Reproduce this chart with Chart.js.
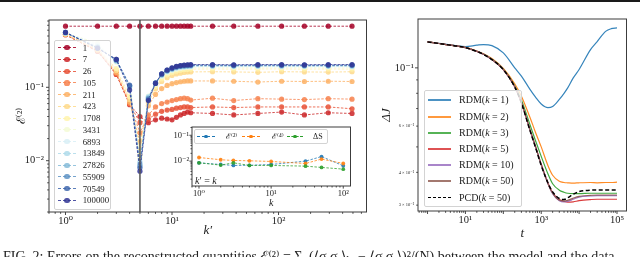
<!DOCTYPE html>
<html><head><meta charset="utf-8">
<script src="https://cdn.jsdelivr.net/npm/chart.js@4.4.1/dist/chart.umd.min.js"></script>
<style>
html,body{margin:0;padding:0;background:#fff;}
body{width:640px;height:257px;overflow:hidden;position:relative;font-family:"Liberation Serif","DejaVu Serif",serif;color:#222;}
canvas{position:absolute;}
.leg{position:absolute;background:rgba(255,255,255,0.8);border:1px solid #d3d3d3;border-radius:2px;box-sizing:border-box;z-index:5;}
.ln{position:absolute;height:0;}
.mk{position:absolute;border-radius:50%;}
.tx{position:absolute;white-space:nowrap;line-height:1;transform:translateY(-50%);color:#222;}
</style></head>
<body>
<div style="position:absolute;left:0;top:0;width:640px;height:2px;background:#1a1a1a"></div>
<canvas id="cMain" width="380" height="257" style="left:0;top:0"></canvas>
<canvas id="cInset" width="212" height="100" style="left:150px;top:112px;z-index:3"></canvas>
<canvas id="cRight" width="260" height="257" style="left:380px;top:0"></canvas>
<div id="legL" class="leg" style="left:53.5px;top:39.5px;width:57px;height:170.5px"></div>
<div id="legI" class="leg" style="left:194px;top:129px;width:134px;height:15px"></div>
<div id="legR" class="leg" style="left:423.5px;top:90px;width:98px;height:116.5px"></div>
<div style="position:absolute;left:195px;top:176px;font-size:10px;z-index:6;line-height:1"><i>k</i>′ = <i>k</i></div>
<div style="position:absolute;left:3px;top:249px;font-size:14px;white-space:nowrap;line-height:1.2">FIG. 2: Errors on the reconstructed quantities ℰ⁽²⁾ = Σ<sub>ij</sub>(⟨σ<sub>i</sub>σ<sub>j</sub>⟩<sub>k′</sub> − ⟨σ<sub>i</sub>σ<sub>j</sub>⟩)²/(N) between the model and the data</div>
<script>
// ---------------- data: left panel ----------------
const kPrime = [1,2,3,4,5,6,7,8,9,10,11,12,13,14,15,24,38,64,107,175,293,490];
const seriesLabels = ['1','7','26','105','211','423','1708','3431','6893','13849','27826','55909','70549','100000'];
const e_1      = [0.68,0.68,0.68,0.68,0.68,0.68,0.68,0.68,0.68,0.68,0.68,0.68,0.68,0.68,0.68,0.68,0.68,0.68,0.68,0.68,0.68,0.68];
const e_7      = [0.52,0.31,0.15,0.058,0.040,0.033,0.036,0.038,0.037,0.036,0.039,0.042,0.044,0.046,0.045,0.044,0.042,0.044,0.046,0.042,0.045,0.044];
const e_26     = [0.52,0.31,0.15,0.059,0.033,0.037,0.043,0.047,0.049,0.050,0.052,0.053,0.054,0.054,0.053,0.054,0.053,0.054,0.054,0.054,0.054,0.051];
const e_105    = [0.53,0.32,0.155,0.060,0.024,0.042,0.054,0.060,0.063,0.066,0.068,0.070,0.071,0.070,0.067,0.071,0.066,0.070,0.069,0.068,0.070,0.069];
const e_211    = [0.53,0.32,0.16,0.063,0.018,0.056,0.080,0.096,0.106,0.112,0.116,0.119,0.121,0.122,0.122,0.122,0.121,0.118,0.121,0.120,0.121,0.120];
const e_423    = [0.53,0.33,0.17,0.068,0.015,0.062,0.095,0.120,0.135,0.145,0.152,0.156,0.159,0.161,0.162,0.163,0.162,0.160,0.163,0.162,0.161,0.163];
const e_1708   = [0.54,0.34,0.18,0.075,0.012,0.066,0.102,0.130,0.148,0.158,0.166,0.171,0.174,0.176,0.177,0.178,0.177,0.178,0.178,0.177,0.178,0.177];
const e_3431   = [0.55,0.40,0.22,0.100,0.011,0.076,0.110,0.140,0.158,0.168,0.176,0.181,0.184,0.186,0.187,0.188,0.187,0.188,0.188,0.187,0.188,0.188];
const e_6893   = [0.55,0.38,0.225,0.100,0.010,0.075,0.112,0.143,0.162,0.172,0.180,0.185,0.188,0.190,0.191,0.192,0.191,0.192,0.191,0.192,0.192,0.191];
const e_13849  = [0.55,0.36,0.23,0.102,0.0095,0.074,0.113,0.146,0.165,0.175,0.184,0.189,0.191,0.193,0.194,0.194,0.194,0.195,0.194,0.194,0.195,0.194];
const e_27826  = [0.55,0.35,0.23,0.104,0.009,0.072,0.114,0.148,0.167,0.178,0.187,0.192,0.194,0.196,0.197,0.197,0.196,0.197,0.197,0.196,0.197,0.197];
const e_55909  = [0.56,0.35,0.235,0.105,0.0085,0.070,0.114,0.150,0.169,0.180,0.189,0.194,0.196,0.198,0.199,0.199,0.198,0.199,0.199,0.199,0.198,0.199];
const e_70549  = [0.56,0.34,0.24,0.107,0.008,0.068,0.115,0.152,0.171,0.182,0.191,0.196,0.199,0.200,0.201,0.201,0.200,0.201,0.201,0.200,0.201,0.201];
const e_100000 = [0.56,0.34,0.24,0.092,0.0072,0.066,0.113,0.153,0.172,0.184,0.193,0.198,0.201,0.203,0.204,0.204,0.203,0.204,0.204,0.203,0.204,0.204];
const seriesValues = [e_1,e_7,e_26,e_105,e_211,e_423,e_1708,e_3431,e_6893,e_13849,e_27826,e_55909,e_70549,e_100000];
const seriesColors = ['#a50026','#cb2527','#e75136','#f7814c','#fdb265','#fed989','#fff3ad','#f3fad5','#d8eff6','#afdbea','#85bbd8','#5e93c4','#4067ad','#313695'];
const markedK = 5;

// ---------------- data: inset ----------------
const kInset = [1,2,3,5,10,30,50,100];
const insetLabels = ['ℰ⁽²⁾','ℰ⁽⁴⁾','ΔS'];
const inE2 = [0.0086,0.0074,0.0068,0.0069,0.0074,0.0100,0.0150,0.0066];
const inE4 = [0.0138,0.0113,0.0106,0.0103,0.0097,0.0081,0.0120,0.0081];
const inDS = [0.0086,0.0070,0.0086,0.0068,0.0068,0.0064,0.0057,0.0049];
const insetColors = ['#1f77b4','#ff7f0e','#2ca02c'];

// ---------------- data: right panel ----------------
const tVals = [1,2,5,10,20,30,50,100,200,300,500,700,1000,1500,2000,3000,4000,5000,7000,10000,20000,30000,50000,70000,100000];
const rdm1  = [0.1256,0.1240,0.1218,0.1205,0.1220,0.1227,0.1215,0.1140,0.1000,0.0930,0.0830,0.0775,0.0728,0.0705,0.0712,0.0758,0.0800,0.0839,0.0916,0.0986,0.1174,0.1260,0.1377,0.1410,0.1420];
const rdm2  = [0.1256,0.1238,0.1215,0.1196,0.1160,0.1132,0.1085,0.0995,0.0870,0.0780,0.0650,0.0570,0.0500,0.0425,0.0390,0.0370,0.0366,0.0365,0.0364,0.0365,0.0366,0.0365,0.0366,0.0366,0.0367];
const rdm3  = [0.1256,0.1238,0.1215,0.1195,0.1157,0.1128,0.1078,0.0988,0.0855,0.0755,0.0610,0.0530,0.0460,0.0395,0.0362,0.0342,0.0336,0.0333,0.0332,0.0332,0.0333,0.0333,0.0333,0.0333,0.0333];
const rdm5  = [0.1256,0.1238,0.1215,0.1195,0.1156,0.1126,0.1076,0.0985,0.0848,0.0738,0.0585,0.0505,0.0430,0.0365,0.0335,0.0315,0.0310,0.0308,0.0309,0.0312,0.0315,0.0316,0.0316,0.0316,0.0316];
const rdm10 = [0.1256,0.1238,0.1215,0.1195,0.1156,0.1126,0.1076,0.0985,0.0847,0.0737,0.0583,0.0503,0.0428,0.0363,0.0332,0.0312,0.0309,0.0310,0.0316,0.0322,0.0325,0.0326,0.0326,0.0326,0.0326];
const rdm50 = [0.1256,0.1238,0.1215,0.1195,0.1156,0.1126,0.1076,0.0985,0.0847,0.0737,0.0583,0.0503,0.0428,0.0363,0.0333,0.0313,0.0311,0.0313,0.0319,0.0324,0.0327,0.0328,0.0328,0.0328,0.0328];
const pcd50 = [0.1256,0.1238,0.1215,0.1195,0.1155,0.1125,0.1075,0.0985,0.0845,0.0735,0.0580,0.0500,0.0425,0.0365,0.0337,0.0318,0.0315,0.0320,0.0330,0.0338,0.0342,0.0343,0.0343,0.0343,0.0343];
const rightLabels = ['RDM(k = 1)','RDM(k = 2)','RDM(k = 3)','RDM(k = 5)','RDM(k = 10)','RDM(k = 50)','PCD(k = 50)'];
const rightValues = [rdm1,rdm2,rdm3,rdm5,rdm10,rdm50,pcd50];
const rightColors = ['#1f77b4','#ff7f0e','#2ca02c','#d62728','#9467bd','#8c564b','#000000'];
const rightXLabelExps = [1,3,5];
const rightYMinorMantissas = [3,4,6];

// ---------------- helpers ----------------
const SERIF = '"Liberation Serif","DejaVu Serif",serif';
const SUP = {'0':'⁰','1':'¹','2':'²','3':'³','4':'⁴','5':'⁵','6':'⁶','7':'⁷','8':'⁸','9':'⁹','-':'⁻'};
function pow10Label(e){ return '10' + String(e).split('').map(c=>SUP[c]).join(''); }
function mant(v){ const e=Math.floor(Math.log10(v)+1e-9); const m=v/Math.pow(10,e); const r=Math.round(m); return (Math.abs(m-r)<1e-6 && r>=1 && r<=9) ? r : 0; }
function expOf(v){ return Math.round(Math.log10(v/mant(v))); }
function logTicks(scale){
  const out=[]; const lo=scale.min, hi=scale.max;
  for(let e=Math.floor(Math.log10(lo)); e<=Math.ceil(Math.log10(hi)); e++)
    for(let m=1;m<10;m++){ const v=+(m*Math.pow(10,e)).toPrecision(6); if(v>=lo*0.9999 && v<=hi*1.0001) out.push({value:v, major:m===1}); }
  scale.ticks = out;
}
function rgba(hex,a){ const n=parseInt(hex.slice(1),16); return `rgba(${n>>16},${(n>>8)&255},${n&255},${a})`; }

const deco = {
  id:'deco',
  beforeDatasetsDraw(chart,args,o){
    if(o.white){ const a=chart.chartArea, c=chart.ctx; c.save(); c.fillStyle='#fff'; c.fillRect(a.left,a.top,a.right-a.left,a.bottom-a.top); c.restore(); }
  },
  afterDatasetsDraw(chart,args,o){
    const c=chart.ctx, a=chart.chartArea, X=chart.scales.x, Y=chart.scales.y;
    c.save();
    if(o.vline!=null){
      const px=X.getPixelForValue(o.vline);
      c.strokeStyle='rgba(85,85,85,0.95)'; c.lineWidth=1.6;
      c.beginPath(); c.moveTo(px,a.top); c.lineTo(px,a.bottom); c.stroke();
    }
    c.strokeStyle='#333'; c.lineWidth=0.9;
    X.ticks.forEach(t=>{ const m=mant(t.value); if(!m) return; const px=X.getPixelForValue(t.value);
      if(px<a.left-0.5||px>a.right+0.5) return; const L=m===1?o.major:o.minor;
      c.beginPath(); c.moveTo(px,a.bottom); c.lineTo(px,a.bottom+L); c.stroke(); });
    Y.ticks.forEach(t=>{ const m=mant(t.value); if(!m) return; const py=Y.getPixelForValue(t.value);
      if(py<a.top-0.5||py>a.bottom+0.5) return; const L=m===1?o.major:o.minor;
      c.beginPath(); c.moveTo(a.left,py); c.lineTo(a.left-L,py); c.stroke(); });
    c.strokeStyle='#3c3c3c'; c.lineWidth=1;
    c.strokeRect(a.left,a.top,a.right-a.left,a.bottom-a.top);
    c.restore();
  }
};

function logAxis(opt){
  return {
    type:'logarithmic', min:opt.min, max:opt.max,
    afterBuildTicks: logTicks,
    afterFit: s=>{ if(opt.h!=null) s.height=opt.h; if(opt.w!=null) s.width=opt.w; s.paddingTop=0; s.paddingBottom=0; s.paddingLeft=0; s.paddingRight=0; },
    grid:{display:false, drawTicks:false}, border:{display:false},
    ticks:{autoSkip:false, maxRotation:0, minRotation:0, padding:opt.pad, color:'#222',
      font: opt.font || {family:SERIF, size:opt.fs}, callback: opt.cb},
    title:{display:true, text:opt.title, color:'#222',
      font:{family:SERIF, size:opt.tfs, style:opt.tstyle||'normal', lineHeight:1}, padding:opt.tpad}
  };
}
const baseOpts = {responsive:false, animation:false, events:[], plugins:{legend:{display:false}, tooltip:{enabled:false}}};

// ---------------- main chart ----------------
new Chart(document.getElementById('cMain'), {
  type:'line',
  data:{ datasets: seriesLabels.map((lab,i)=>({
    label:lab,
    data: kPrime.map((k,j)=>({x:k, y:seriesValues[i][j]})),
    borderColor: rgba(seriesColors[i],0.8), backgroundColor: rgba(seriesColors[i],0.85),
    pointBackgroundColor: rgba(seriesColors[i],0.85), pointBorderWidth:0,
    borderWidth:1, borderDash:[2.5,1.5], pointRadius:2.6, tension:0, order:-i
  }))},
  options:{...baseOpts,
    layout:{padding:{top:20,right:13.5,left:0,bottom:0}},
    plugins:{...baseOpts.plugins, deco:{vline:markedK, major:3, minor:1.8}},
    scales:{
      x: logAxis({min:0.736,max:670,h:45,pad:2.5,fs:10.5,title:'k′',tfs:13,tstyle:'italic',tpad:{top:0,bottom:19.5},
        cb:v=>mant(v)===1?pow10Label(expOf(v)):''}),
      y: logAxis({min:0.0020,max:0.826,w:49,pad:5,fs:10.5,title:'ℰ⁽²⁾',tfs:12,tpad:{top:15.5,bottom:0},
        cb:v=>mant(v)===1?pow10Label(expOf(v)):''})
    }
  },
  plugins:[deco]
});

// ---------------- inset ----------------
const insetSeries = [inE2,inE4,inDS];
new Chart(document.getElementById('cInset'), {
  type:'line',
  data:{ datasets: insetLabels.map((lab,i)=>({
    label:lab, data:kInset.map((k,j)=>({x:k,y:insetSeries[i][j]})),
    borderColor: rgba(insetColors[i],0.85), backgroundColor: rgba(insetColors[i],0.9),
    pointBackgroundColor: rgba(insetColors[i],0.9), pointBorderWidth:0,
    borderWidth:0.9, borderDash:[2.5,1.5], pointRadius:1.9, tension:0, order:-i
  }))},
  options:{...baseOpts,
    layout:{padding:{top:15,right:11.5,left:0,bottom:0}},
    plugins:{...baseOpts.plugins, deco:{white:true, major:2.6, minor:1.5}},
    scales:{
      x: logAxis({min:0.8,max:126,h:26,pad:2.5,fs:8.5,title:'k',tfs:10,tstyle:'italic',tpad:{top:0,bottom:4},
        cb:v=>mant(v)===1?pow10Label(expOf(v)):''}),
      y: logAxis({min:0.00109,max:0.209,w:42,pad:3,fs:8.5,title:'',tfs:8,tpad:0,
        cb:v=>mant(v)===1?pow10Label(expOf(v)):''})
    }
  },
  plugins:[deco]
});

// ---------------- right chart ----------------
new Chart(document.getElementById('cRight'), {
  type:'line',
  data:{ datasets: rightLabels.map((lab,i)=>({
    label:lab, data:tVals.map((t,j)=>({x:t,y:rightValues[i][j]})),
    borderColor: i===6 ? '#000' : rgba(rightColors[i],0.9),
    borderWidth: i===6 ? 1.5 : 1.2, borderDash: i===6 ? [4,2.5] : [],
    pointRadius:0, cubicInterpolationMode:'monotone', order:-i
  }))},
  options:{...baseOpts,
    layout:{padding:{top:19,right:13.5,left:0,bottom:0}},
    plugins:{...baseOpts.plugins, deco:{major:3, minor:1.8}},
    scales:{
      x: logAxis({min:0.56,max:178000,h:46,pad:2.5,fs:10.5,title:'t',tfs:13,tstyle:'italic',tpad:{top:0,bottom:17},
        cb:v=>(mant(v)===1 && rightXLabelExps.includes(expOf(v)))?pow10Label(expOf(v)):''}),
      y: logAxis({min:0.0285,max:0.1535,w:38,pad:4,title:'ΔJ',tfs:13,tstyle:'italic',tpad:{top:0,bottom:0},
        font: ctx => (ctx.tick && mant(ctx.tick.value)===1) ? {family:SERIF,size:10.5} : {family:SERIF,size:4.5},
        cb:v=>{ const m=mant(v); if(m===1) return pow10Label(expOf(v)); if(rightYMinorMantissas.includes(m)) return m+' × '+pow10Label(expOf(v)); return ''; }})
    }
  },
  plugins:[deco]
});

// ---------------- legends (HTML) ----------------
function addItem(box, cy, x0, x1, color, dashed, lw, marker, mx, tx, html, fs){
  const ln=document.createElement('div'); ln.className='ln';
  ln.style.cssText += `left:${x0}px;top:${cy-lw/2}px;width:${x1-x0}px;border-top:${lw}px ${dashed?'dashed':'solid'} ${color};`;
  box.appendChild(ln);
  if(marker){ const mk=document.createElement('div'); mk.className='mk';
    mk.style.cssText += `left:${mx-marker}px;top:${cy-marker}px;width:${2*marker}px;height:${2*marker}px;background:${color};`;
    box.appendChild(mk); }
  const t=document.createElement('div'); t.className='tx'; t.style.left=tx+'px'; t.style.top=cy+'px'; t.style.fontSize=fs+'px'; t.innerHTML=html;
  box.appendChild(t);
}
const legL=document.getElementById('legL');
seriesLabels.forEach((lab,i)=>addItem(legL, 7.2+11.74*i, 3.2, 21.5, rgba(seriesColors[i],0.85), true, 1, 2.6, 12.5, 28.2, lab, 8.8));
const legI=document.getElementById('legI');
const insetPos=[[2,20,11,31],[47,65,56,77],[92,108,100,118]];
insetLabels.forEach((lab,i)=>addItem(legI, 6.5, insetPos[i][0], insetPos[i][1], insetColors[i], true, 1, 1.9, insetPos[i][2], insetPos[i][3], lab, 8));
const legR=document.getElementById('legR');
rightLabels.forEach((lab,i)=>addItem(legR, 9.3+16.2*i, 3.5, 26.5, i===6?'#000':rgba(rightColors[i],0.8), i===6, i===6?1.5:2, 0, 0, 34.5,
  lab.replace('k =','<i>k</i> ='), 10));
</script>
</body></html>
